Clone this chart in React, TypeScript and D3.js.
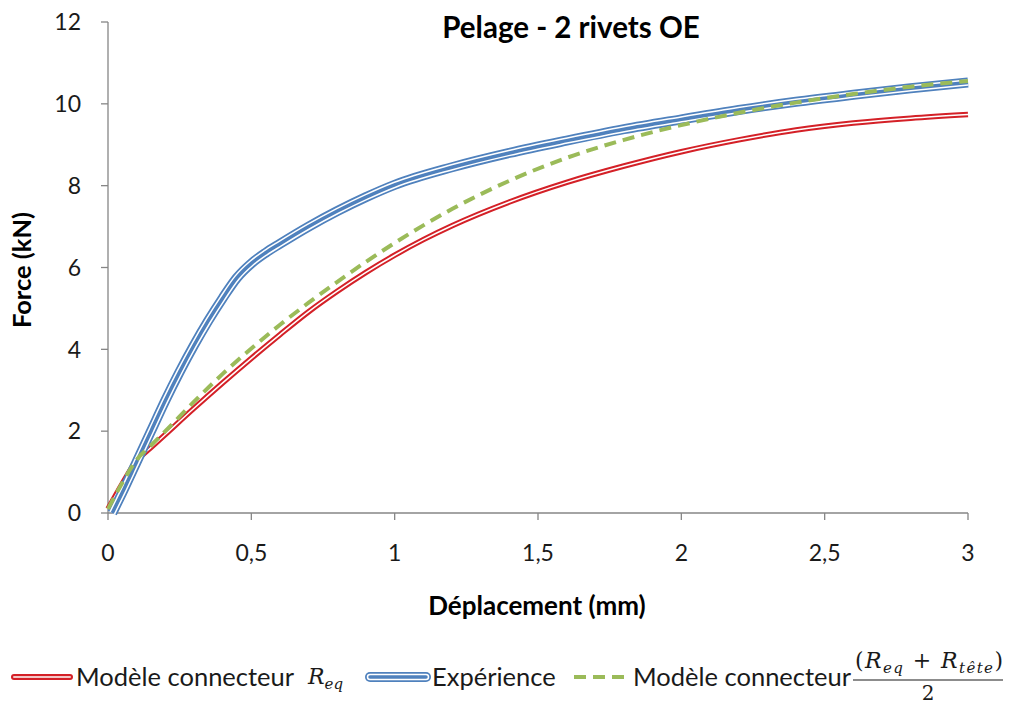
import React from "react";
import * as d3 from "d3";

const xDisp = [0, 0.05, 0.1, 0.15, 0.2, 0.3, 0.4, 0.5, 0.6, 0.7, 0.8, 0.9, 1.0, 1.1, 1.2, 1.4, 1.6, 1.8, 2.0, 2.2, 2.4, 2.6, 2.8, 3.0];
const modelReq = [0.1, 0.72, 1.28, 1.6, 1.92, 2.56, 3.18, 3.78, 4.36, 4.92, 5.42, 5.88, 6.3, 6.68, 7.02, 7.6, 8.08, 8.48, 8.83, 9.12, 9.36, 9.53, 9.65, 9.74];
const modelAvg = [0.1, 0.74, 1.3, 1.65, 2.0, 2.72, 3.4, 4.02, 4.6, 5.14, 5.65, 6.14, 6.6, 7.03, 7.43, 8.12, 8.68, 9.12, 9.48, 9.78, 10.03, 10.24, 10.42, 10.56];

const xExp = [0.015, 0.05, 0.1, 0.15, 0.2, 0.25, 0.3, 0.35, 0.4, 0.45, 0.5, 0.55, 0.6, 0.7, 0.8, 0.9, 1.0, 1.2, 1.4, 1.6, 1.8, 2.0, 2.2, 2.4, 2.6, 2.8, 3.0];
const experience = [0, 0.5, 1.25, 2.0, 2.75, 3.45, 4.1, 4.7, 5.25, 5.75, 6.1, 6.36, 6.58, 7.0, 7.38, 7.72, 8.02, 8.45, 8.8, 9.1, 9.38, 9.62, 9.85, 10.05, 10.22, 10.38, 10.52];

const xTicks = [0, 0.5, 1, 1.5, 2, 2.5, 3];
const xTickLabels = ["0", "0,5", "1", "1,5", "2", "2,5", "3"];
const yTicks = [0, 2, 4, 6, 8, 10, 12];

const title = "Pelage - 2 rivets OE";
const xTitle = "Déplacement (mm)";
const yTitle = "Force (kN)";

const RED = "#d42027";
const BLUE = "#4f81bd";
const GREEN = "#9bbb59";
const AXIS = "#868686";
const FONT = "Lato, 'Open Sans', sans-serif";

export default function App() {
  const W = 1009, H = 705;
  const x = d3.scaleLinear().domain([0, 3]).range([108, 968]);
  const y = d3.scaleLinear().domain([0, 12]).range([513, 22]);

  const line = d3.line<[number, number]>().x(d => x(d[0])).y(d => y(d[1])).curve(d3.curveMonotoneX);
  const redPath = line(xDisp.map((v, i) => [v, modelReq[i]]))!;
  const greenPath = line(xDisp.map((v, i) => [v, modelAvg[i]]))!;
  const bluePath = line(xExp.map((v, i) => [v, experience[i]]))!;

  const legY = 677;

  return (
    <svg width={W} height={H} style={{ position: "absolute", left: 0, top: 0, background: "#fff" }} fontFamily={FONT}>
      <rect width={W} height={H} fill="#fff" />
      {/* axes */}
      <line x1={x(0)} x2={x(3)} y1={y(0)} y2={y(0)} stroke={AXIS} strokeWidth={1.3} />
      <line x1={x(0)} x2={x(0)} y1={y(0)} y2={y(12)} stroke={AXIS} strokeWidth={1.3} />
      {yTicks.map(t => (
        <g key={"y" + t}>
          <line x1={x(0) - 7} x2={x(0)} y1={y(t)} y2={y(t)} stroke={AXIS} strokeWidth={1.3} />
          <text x={x(0) - 27} y={y(t)} dy="0.36em" textAnchor="end" fontSize={23} fill="#1a1a1a">{t}</text>
        </g>
      ))}
      {xTicks.map((t, i) => (
        <g key={"x" + t}>
          <line x1={x(t)} x2={x(t)} y1={y(0)} y2={y(0) + 7} stroke={AXIS} strokeWidth={1.3} />
          <text x={x(t)} y={561} textAnchor="middle" fontSize={23} fill="#1a1a1a">{xTickLabels[i]}</text>
        </g>
      ))}
      {/* titles */}
      <text x={571} y={38} textAnchor="middle" fontSize={29.5} fontWeight="bold" fill="#000">{title}</text>
      <text x={537} y={615} textAnchor="middle" fontSize={26} fontWeight="bold" fill="#000">{xTitle}</text>
      <text transform={`translate(31,270) rotate(-90)`} textAnchor="middle" fontSize={25.5} fontWeight="bold" fill="#000">{yTitle}</text>

      {/* series */}
      <g fill="none" strokeLinejoin="round">
        <path d={redPath} stroke={RED} strokeWidth={5.5} />
        <path d={redPath} stroke="#fff" strokeWidth={1.5} />
        <path d={bluePath} stroke={BLUE} strokeWidth={10} />
        <path d={bluePath} stroke="#fff" strokeWidth={6.5} />
        <path d={bluePath} stroke={BLUE} strokeWidth={3.5} />
        <path d={greenPath} stroke={GREEN} strokeWidth={4} strokeDasharray="12 7" />
      </g>

      {/* legend */}
      <g fill="none" strokeLinecap="round">
        <line x1={14} x2={70} y1={legY} y2={legY} stroke={RED} strokeWidth={6} />
        <line x1={14} x2={70} y1={legY} y2={legY} stroke="#f4c7c7" strokeWidth={2} />
        <line x1={370} x2={426} y1={legY} y2={legY} stroke={BLUE} strokeWidth={10} />
        <line x1={370} x2={426} y1={legY} y2={legY} stroke="#fff" strokeWidth={6.5} />
        <line x1={370} x2={426} y1={legY} y2={legY} stroke={BLUE} strokeWidth={3.5} />
        <line x1={574} x2={626} y1={legY} y2={legY} stroke={GREEN} strokeWidth={4} strokeDasharray="12 7" strokeLinecap="butt" />
      </g>
      <g fontSize={25.5} fill="#1a1a1a">
        <text x={76} y={legY + 9}>Modèle connecteur</text>
        <text x={432} y={legY + 9}>Expérience</text>
        <text x={633} y={legY + 9}>Modèle connecteur</text>
      </g>
      <g fontFamily="'DejaVu Serif', 'Liberation Serif', serif" fontStyle="italic" fill="#1a1a1a">
        <text x={308} y={legY + 7} fontSize={22}>R<tspan fontSize={15} dy={5}>eq</tspan></text>
        <text x={855} y={legY - 9} fontSize={22} textLength={148} lengthAdjust="spacing">
          <tspan fontStyle="normal">(</tspan>R<tspan fontSize={15} dy={5}>eq</tspan><tspan fontStyle="normal" dy={-5}> + </tspan>R<tspan fontSize={15} dy={5}>tête</tspan><tspan fontStyle="normal" dy={-5}>)</tspan>
        </text>
        <line x1={853} x2={1003} y1={legY + 3} y2={legY + 3} stroke="#1a1a1a" strokeWidth={1.2} />
        <text x={928} y={legY + 23} fontSize={20} fontStyle="normal" textAnchor="middle">2</text>
      </g>
    </svg>
  );
}
